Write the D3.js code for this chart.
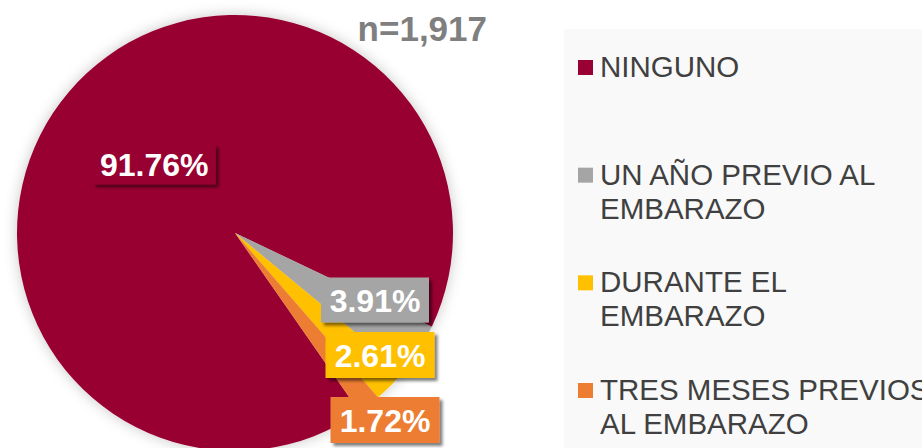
<!DOCTYPE html>
<html>
<head>
<meta charset="utf-8">
<script src="https://cdn.jsdelivr.net/npm/d3@7"></script>
<style>
  body { margin: 0; background: #fff; }
  svg { display: block; font-family: "Liberation Sans", Arial, sans-serif; }
</style>
</head>
<body>
<div id="pie-chart"></div>
<script>
// Data
var categories = ["NINGUNO", "UN AÑO PREVIO AL EMBARAZO", "DURANTE EL EMBARAZO", "TRES MESES PREVIOS AL EMBARAZO"];
var legendLines = [["NINGUNO"], ["UN AÑO PREVIO AL", "EMBARAZO"], ["DURANTE EL", "EMBARAZO"], ["TRES MESES PREVIOS", "AL EMBARAZO"]];
var values = [91.76, 3.91, 2.61, 1.72];
var labels = ["91.76%", "3.91%", "2.61%", "1.72%"];
var colors = ["#990033", "#A5A5A5", "#FFC000", "#ED7D31"];
var sampleText = "n=1,917";

var width = 922, height = 448;
var cx = 235, cy = 233, radius = 218;

var svg = d3.select("#pie-chart")
    .append("svg")
    .attr("width", width)
    .attr("height", height);

var defs = svg.append("defs");
defs.append("filter")
    .attr("id", "glow")
    .attr("x", "-20%").attr("y", "-20%")
    .attr("width", "140%").attr("height", "140%")
    .append("feDropShadow")
    .attr("dx", 0).attr("dy", 0)
    .attr("stdDeviation", 7)
    .attr("flood-color", "#000")
    .attr("flood-opacity", 0.22);
defs.append("filter")
    .attr("id", "boxShadow")
    .attr("x", "-20%").attr("y", "-20%")
    .attr("width", "150%").attr("height", "160%")
    .append("feDropShadow")
    .attr("dx", 3).attr("dy", 3)
    .attr("stdDeviation", 1.5)
    .attr("flood-color", "#000")
    .attr("flood-opacity", 0.5);

// legend panel
svg.append("rect")
    .attr("x", 564).attr("y", 29)
    .attr("width", width - 564).attr("height", height - 29)
    .attr("fill", "#F9F9F9");

// pie: small slices sit in the lower right, first slice wraps round
var gapStart = 115.5; // degrees, where the second slice begins
var startDeg = gapStart - 360 * values[0] / d3.sum(values);
var pie = d3.pie()
    .sort(null)
    .startAngle(startDeg * Math.PI / 180)
    .endAngle(startDeg * Math.PI / 180 + 2 * Math.PI);
var arcs = pie(values);

var arc = d3.arc().innerRadius(0).outerRadius(radius);
var labelArc = d3.arc().innerRadius(106).outerRadius(106);

var g = svg.append("g")
    .attr("transform", "translate(" + cx + "," + cy + ")");

g.append("g")
    .attr("filter", "url(#glow)")
    .selectAll("path")
    .data(arcs)
    .enter()
    .append("path")
    .attr("d", arc)
    .attr("fill", function (d, i) { return colors[i]; });

// label boxes: main one at centroid, the small ones stacked as callouts
var boxLayout = [
    { w: 123, h: 40 },
    { x: 140, y: 67, w: 108, h: 45 },
    { x: 145, y: 122, w: 109, h: 46 },
    { x: 150, y: 187, w: 109, h: 46 }
];

var lab = g.selectAll(".lab")
    .data(arcs)
    .enter()
    .append("g")
    .attr("class", "lab")
    .attr("transform", function (d, i) {
        var p = i === 0 ? labelArc.centroid(d) : [boxLayout[i].x, boxLayout[i].y];
        return "translate(" + p[0] + "," + p[1] + ")";
    });

lab.append("rect")
    .attr("x", function (d, i) { return -boxLayout[i].w / 2; })
    .attr("y", function (d, i) { return -boxLayout[i].h / 2; })
    .attr("width", function (d, i) { return boxLayout[i].w; })
    .attr("height", function (d, i) { return boxLayout[i].h; })
    .attr("fill", function (d, i) { return colors[i]; })
    .attr("filter", "url(#boxShadow)");

lab.append("text")
    .attr("text-anchor", "middle")
    .attr("y", 11.5)
    .attr("fill", "#fff")
    .attr("font-weight", "bold")
    .attr("font-size", "32px")
    .text(function (d, i) { return labels[i]; });

// sample size
svg.append("text")
    .attr("x", 487).attr("y", 41)
    .attr("text-anchor", "end")
    .attr("fill", "#7F7F7F")
    .attr("font-weight", "bold")
    .attr("font-size", "35px")
    .text(sampleText);

// legend
var legendY = d3.scalePoint()
    .domain(categories)
    .range([77, 400]);

var item = svg.selectAll(".legend")
    .data(categories)
    .enter()
    .append("g")
    .attr("class", "legend")
    .attr("transform", function (d) { return "translate(578," + legendY(d) + ")"; });

item.append("rect")
    .attr("x", 0).attr("y", -17)
    .attr("width", 15).attr("height", 15)
    .attr("fill", function (d, i) { return colors[i]; });

item.append("text")
    .attr("fill", "#404040")
    .attr("font-size", "29.5px")
    .selectAll("tspan")
    .data(function (d, i) { return legendLines[i]; })
    .enter()
    .append("tspan")
    .attr("x", 22)
    .attr("y", function (d, j) { return j * 34; })
    .text(function (d) { return d; });
</script>
</body>
</html>
